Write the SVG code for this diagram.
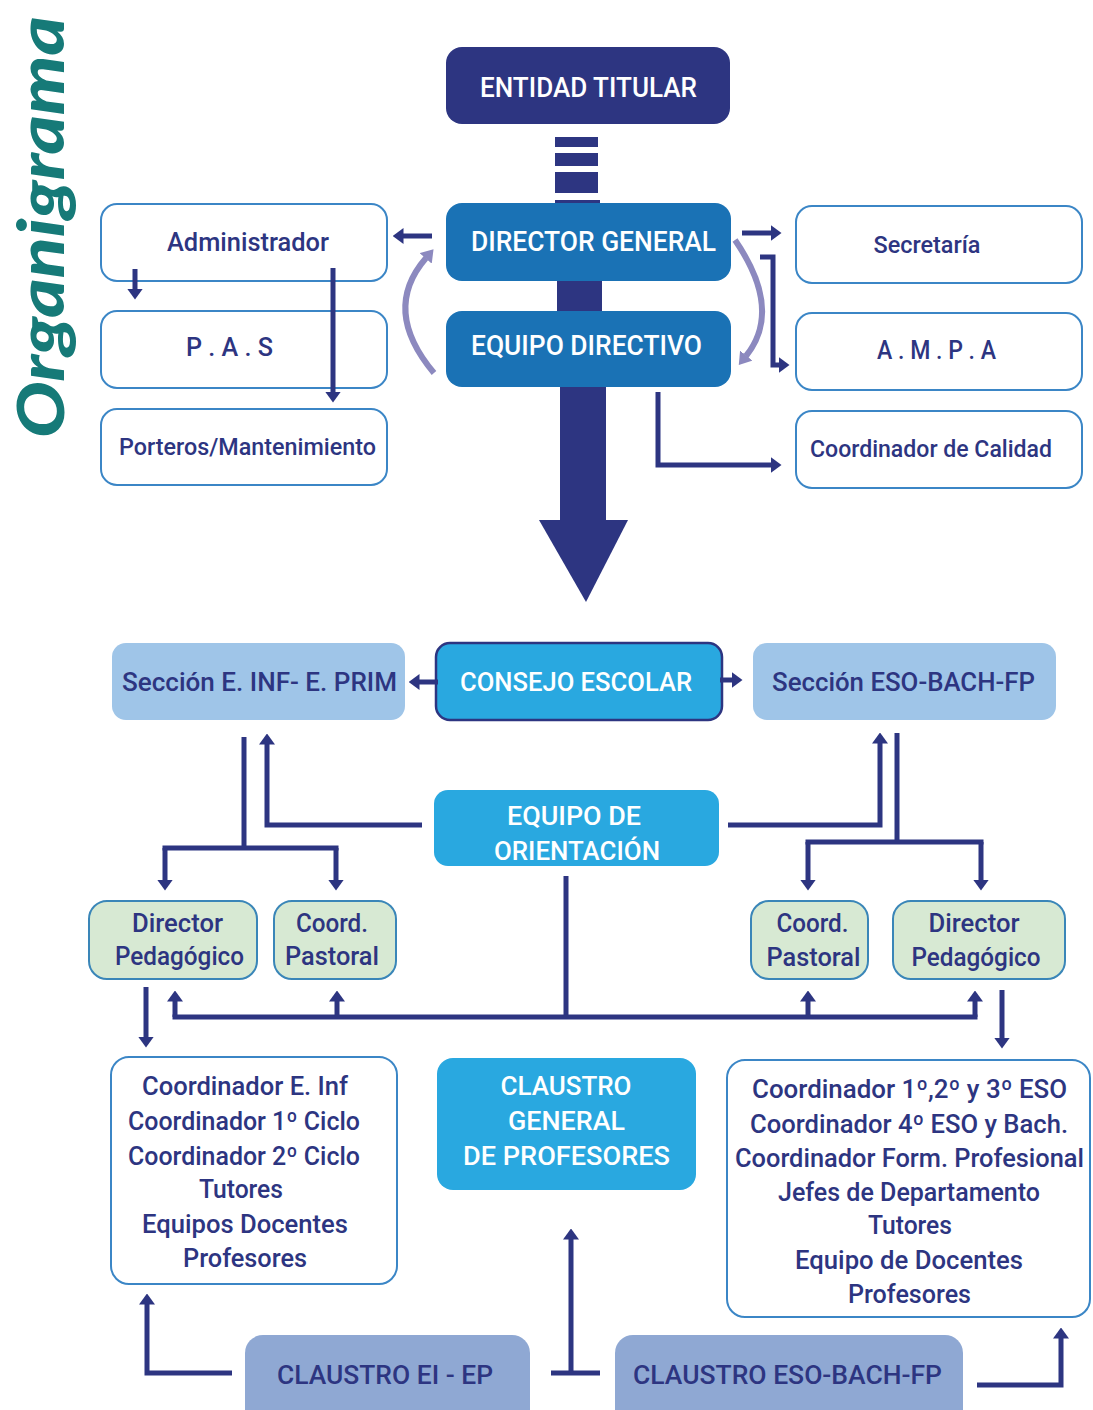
<svg xmlns="http://www.w3.org/2000/svg" width="1093" height="1410" viewBox="0 0 1093 1410">
<style>
.t{font-family:Roboto,"Liberation Sans",sans-serif;font-weight:500;font-size:25px;fill:#2d3581}
.w{fill:#ffffff;font-size:27px}
.c{font-size:26px}
.box{fill:#ffffff;stroke:#3b86c6;stroke-width:2}
.dark{fill:#2d3581}
.mid{fill:#1a72b5}
.cyan{fill:#29a8e0}
.sec{fill:#9fc5e8}
.grn{fill:#d7e9d3;stroke:#3a86b8;stroke-width:2}
.cl{fill:#8fa8d3}
.ln{fill:none;stroke:#2d3581;stroke-width:5}
.cv{fill:none;stroke:#8c89bf;stroke-width:6}
</style>
<defs>
<marker id="ah" viewBox="0 0 11 16" markerWidth="11" markerHeight="16" refX="0.5" refY="8" orient="auto" markerUnits="userSpaceOnUse"><path d="M0,0 L11,8 L0,16 z" fill="#2d3581"/></marker>
<marker id="ap" viewBox="0 0 12 16" markerWidth="12" markerHeight="16" refX="0.5" refY="8" orient="auto" markerUnits="userSpaceOnUse"><path d="M0,0 L12,8 L0,16 z" fill="#8c89bf"/></marker>
</defs>
<rect width="1093" height="1410" fill="#ffffff"/>
<text transform="translate(64,438) rotate(-90)" textLength="422" lengthAdjust="spacingAndGlyphs" style="font-family:Lato,'Open Sans',sans-serif;font-weight:900;font-style:italic;font-size:64px;fill:#167a78">Organigrama</text>

<g id="trunk" class="dark">
<rect x="555" y="137" width="43" height="10"/>
<rect x="555" y="153" width="43" height="13"/>
<rect x="555" y="172" width="43" height="21"/>
<rect x="555" y="200" width="45" height="10"/>
<rect x="557" y="275" width="45" height="40"/>
<rect x="560" y="383" width="46" height="138"/>
<polygon points="539,520 628,520 586,602"/>
</g>

<g id="entidad-titular"><rect class="dark" x="446" y="47" width="284" height="77" rx="16"/><text class="t w" x="588.5" y="97" text-anchor="middle" textLength="217" lengthAdjust="spacingAndGlyphs">ENTIDAD TITULAR</text></g>
<g id="director-general"><rect class="mid" x="446" y="203" width="285" height="78" rx="16"/><text class="t w" x="593.5" y="251" text-anchor="middle" textLength="245" lengthAdjust="spacingAndGlyphs" style="font-size:28px">DIRECTOR GENERAL</text></g>
<g id="equipo-directivo"><rect class="mid" x="446" y="311" width="285" height="76" rx="16"/><text class="t w" x="586.5" y="355" text-anchor="middle" textLength="231" lengthAdjust="spacingAndGlyphs" style="font-size:28px">EQUIPO DIRECTIVO</text></g>

<g id="administrador"><rect class="box" x="101" y="204" width="286" height="77" rx="16"/><text class="t" x="248" y="251" text-anchor="middle" textLength="162" lengthAdjust="spacingAndGlyphs">Administrador</text></g>
<g id="pas"><rect class="box" x="101" y="311" width="286" height="77" rx="16"/><text class="t" x="229.5" y="356" text-anchor="middle" textLength="87" lengthAdjust="spacingAndGlyphs">P . A . S</text></g>
<g id="porteros"><rect class="box" x="101" y="409" width="286" height="76" rx="16"/><text class="t" x="247.5" y="455" text-anchor="middle" textLength="257" lengthAdjust="spacingAndGlyphs" style="font-size:24px">Porteros/Mantenimiento</text></g>

<g id="secretaria"><rect class="box" x="796" y="206" width="286" height="77" rx="16"/><text class="t" x="927" y="253" text-anchor="middle" textLength="107" lengthAdjust="spacingAndGlyphs" style="font-size:24px">Secretaría</text></g>
<g id="ampa"><rect class="box" x="796" y="313" width="286" height="77" rx="16"/><text class="t" x="936.5" y="359" text-anchor="middle" textLength="119" lengthAdjust="spacingAndGlyphs">A . M . P . A</text></g>
<g id="coordinador-calidad"><rect class="box" x="796" y="411" width="286" height="77" rx="16"/><text class="t" x="931" y="457" text-anchor="middle" textLength="242" lengthAdjust="spacingAndGlyphs" style="font-size:24px">Coordinador de Calidad</text></g>

<g id="seccion-inf-prim"><rect class="sec" x="112" y="643" width="293" height="77" rx="14"/><text class="t" x="259.5" y="691" text-anchor="middle" textLength="275" lengthAdjust="spacingAndGlyphs">Sección E. INF- E. PRIM</text></g>
<g id="consejo-escolar"><rect class="cyan" x="436" y="643" width="286" height="77" rx="14" stroke="#2d3581" stroke-width="2.5"/><text class="t w" x="576" y="691" text-anchor="middle" textLength="232" lengthAdjust="spacingAndGlyphs" style="font-size:26px">CONSEJO ESCOLAR</text></g>
<g id="seccion-eso-bach-fp"><rect class="sec" x="753" y="643" width="303" height="77" rx="14"/><text class="t" x="903.5" y="691" text-anchor="middle" textLength="263" lengthAdjust="spacingAndGlyphs">Sección ESO-BACH-FP</text></g>
<g id="equipo-orientacion"><rect class="cyan" x="434" y="790" width="285" height="76" rx="14"/><text class="t w" x="574" y="825" text-anchor="middle" textLength="134" lengthAdjust="spacingAndGlyphs" style="font-size:26px">EQUIPO DE</text><text class="t w" x="577" y="860" text-anchor="middle" textLength="166" lengthAdjust="spacingAndGlyphs" style="font-size:26px">ORIENTACIÓN</text></g>

<g id="director-pedagogico-izq"><rect class="grn" x="89" y="901" width="168" height="78" rx="18"/><text class="t c" x="177.5" y="932" text-anchor="middle" textLength="91" lengthAdjust="spacingAndGlyphs">Director</text><text class="t c" x="179.5" y="965" text-anchor="middle" textLength="129" lengthAdjust="spacingAndGlyphs">Pedagógico</text></g>
<g id="coord-pastoral-izq"><rect class="grn" x="274" y="901" width="122" height="78" rx="18"/><text class="t c" x="332" y="932" text-anchor="middle" textLength="72" lengthAdjust="spacingAndGlyphs">Coord.</text><text class="t c" x="332" y="965" text-anchor="middle" textLength="94" lengthAdjust="spacingAndGlyphs">Pastoral</text></g>
<g id="coord-pastoral-der"><rect class="grn" x="751" y="901" width="117" height="78" rx="18"/><text class="t c" x="812.5" y="932" text-anchor="middle" textLength="72" lengthAdjust="spacingAndGlyphs">Coord.</text><text class="t c" x="813.5" y="966" text-anchor="middle" textLength="94" lengthAdjust="spacingAndGlyphs">Pastoral</text></g>
<g id="director-pedagogico-der"><rect class="grn" x="893" y="901" width="172" height="78" rx="18"/><text class="t c" x="974" y="932" text-anchor="middle" textLength="91" lengthAdjust="spacingAndGlyphs">Director</text><text class="t c" x="976" y="966" text-anchor="middle" textLength="129" lengthAdjust="spacingAndGlyphs">Pedagógico</text></g>

<g id="lista-infantil-primaria"><rect class="box" x="111" y="1057" width="286" height="227" rx="18"/>
<text class="t" x="245" y="1095" text-anchor="middle" textLength="206" lengthAdjust="spacingAndGlyphs">Coordinador E. Inf</text>
<text class="t" x="244" y="1130" text-anchor="middle" textLength="232" lengthAdjust="spacingAndGlyphs">Coordinador 1º Ciclo</text>
<text class="t" x="244" y="1165" text-anchor="middle" textLength="232" lengthAdjust="spacingAndGlyphs">Coordinador 2º Ciclo</text>
<text class="t" x="241" y="1198" text-anchor="middle" textLength="84" lengthAdjust="spacingAndGlyphs">Tutores</text>
<text class="t" x="245" y="1233" text-anchor="middle" textLength="206" lengthAdjust="spacingAndGlyphs">Equipos Docentes</text>
<text class="t" x="245" y="1267" text-anchor="middle" textLength="124" lengthAdjust="spacingAndGlyphs">Profesores</text>
</g>
<g id="claustro-general"><rect class="cyan" x="437" y="1058" width="259" height="132" rx="16"/>
<text class="t w" x="566" y="1095" text-anchor="middle" textLength="131" lengthAdjust="spacingAndGlyphs" style="font-size:26px">CLAUSTRO</text>
<text class="t w" x="566.5" y="1130" text-anchor="middle" textLength="117" lengthAdjust="spacingAndGlyphs" style="font-size:26px">GENERAL</text>
<text class="t w" x="566.5" y="1165" text-anchor="middle" textLength="207" lengthAdjust="spacingAndGlyphs" style="font-size:26px">DE PROFESORES</text>
</g>
<g id="lista-eso-bach-fp"><rect class="box" x="727" y="1060" width="363" height="257" rx="18"/>
<text class="t" x="909.5" y="1098" text-anchor="middle" textLength="315" lengthAdjust="spacingAndGlyphs">Coordinador 1º,2º y 3º ESO</text>
<text class="t" x="909" y="1133" text-anchor="middle" textLength="318" lengthAdjust="spacingAndGlyphs">Coordinador 4º ESO y Bach.</text>
<text class="t" x="909.5" y="1167" text-anchor="middle" textLength="349" lengthAdjust="spacingAndGlyphs">Coordinador Form. Profesional</text>
<text class="t" x="909" y="1201" text-anchor="middle" textLength="262" lengthAdjust="spacingAndGlyphs">Jefes de Departamento</text>
<text class="t" x="910" y="1234" text-anchor="middle" textLength="84" lengthAdjust="spacingAndGlyphs">Tutores</text>
<text class="t" x="909" y="1269" text-anchor="middle" textLength="228" lengthAdjust="spacingAndGlyphs">Equipo de Docentes</text>
<text class="t" x="909.5" y="1303" text-anchor="middle" textLength="123" lengthAdjust="spacingAndGlyphs">Profesores</text>
</g>
<g id="claustro-ei-ep"><rect class="cl" x="245" y="1335" width="285" height="95" rx="18"/><text class="t" x="385" y="1384" text-anchor="middle" textLength="216" lengthAdjust="spacingAndGlyphs" style="font-size:26px">CLAUSTRO EI - EP</text></g>
<g id="claustro-eso-bach-fp"><rect class="cl" x="615" y="1335" width="348" height="95" rx="18"/><text class="t" x="787.5" y="1384" text-anchor="middle" textLength="309" lengthAdjust="spacingAndGlyphs" style="font-size:26px">CLAUSTRO ESO-BACH-FP</text></g>

<g id="connectors">
<path class="ln" d="M432,236 L403,236" marker-end="url(#ah)"/>
<path class="ln" d="M742,233 L771,233" marker-end="url(#ah)"/>
<path class="ln" d="M760,257 L773,257 L773,365 L779,365" marker-end="url(#ah)"/>
<path class="ln" d="M658,392 L658,465 L771,465" marker-end="url(#ah)"/>
<path class="ln" d="M135,269 L135,289" marker-end="url(#ah)"/>
<path class="ln" d="M333,268 L333,392" marker-end="url(#ah)"/>
<path class="cv" d="M434,373 Q381,310 426,258" marker-end="url(#ap)"/>
<path class="cv" d="M735,240 Q783,310 746,356" marker-end="url(#ap)"/>
<path class="ln" d="M438,682 L419,682" marker-end="url(#ah)"/>
<path class="ln" d="M720,680 L732,680" marker-end="url(#ah)"/>
<path class="ln" d="M244,737 L244,848"/>
<path class="ln" d="M162.5,848 L338.5,848"/>
<path class="ln" d="M165,848 L165,880" marker-end="url(#ah)"/>
<path class="ln" d="M336,848 L336,880" marker-end="url(#ah)"/>
<path class="ln" d="M422,825 L267,825 L267,744" marker-end="url(#ah)"/>
<path class="ln" d="M728,825 L880,825 L880,743" marker-end="url(#ah)"/>
<path class="ln" d="M897,733 L897,842"/>
<path class="ln" d="M805.5,842 L983.5,842"/>
<path class="ln" d="M808,842 L808,880" marker-end="url(#ah)"/>
<path class="ln" d="M981,842 L981,880" marker-end="url(#ah)"/>
<path class="ln" d="M566,876 L566,1017"/>
<path class="ln" d="M172.5,1017 L977.5,1017"/>
<path class="ln" d="M175,1017 L175,1001" marker-end="url(#ah)"/>
<path class="ln" d="M337,1017 L337,1001" marker-end="url(#ah)"/>
<path class="ln" d="M808,1017 L808,1001" marker-end="url(#ah)"/>
<path class="ln" d="M975,1017 L975,1001" marker-end="url(#ah)"/>
<path class="ln" d="M146,987 L146,1037" marker-end="url(#ah)"/>
<path class="ln" d="M1002,990 L1002,1038" marker-end="url(#ah)"/>
<path class="ln" d="M232,1373 L147,1373 L147,1304" marker-end="url(#ah)"/>
<path class="ln" d="M551,1373 L600,1373"/>
<path class="ln" d="M571,1373 L571,1239" marker-end="url(#ah)"/>
<path class="ln" d="M977,1385 L1061,1385 L1061,1338" marker-end="url(#ah)"/>
</g>
</svg>
